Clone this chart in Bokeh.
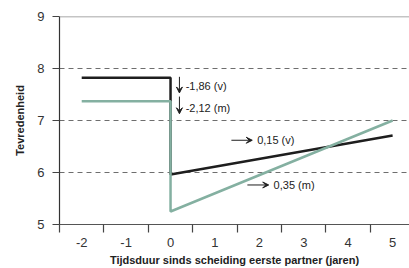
from bokeh.plotting import figure
from bokeh.models import FixedTicker, Span, Arrow, VeeHead, Label, Range1d, LinearAxis
from bokeh.embed import file_html
from bokeh.resources import INLINE

# ---- data ----
x_before = [-2, 0]
x_after = [0, 5]
v_before = 7.82
m_before = 7.37
drop_v = -1.86
drop_m = -2.12
slope_v = 0.15
slope_m = 0.35

x_ticks = [-2, -1, 0, 1, 2, 3, 4, 5]
x_tick_labels = ["-2", "-1", "0", "1", "2", "3", "4", "5"]
x_minor = [-2.5, -1.5, -0.5, 0.5, 1.5, 2.5, 3.5, 4.5]
y_ticks = [5, 6, 7, 8, 9]
grid_y = [6, 7, 8]

labels_drop = ["-1,86 (v)", "-2,12 (m)"]
labels_slope = ["0,15 (v)", "0,35 (m)"]

# annotation positions (data coords)
drop_arrow_x = 0.2
drop_arrows = [(7.84, 7.53), (7.46, 7.13)]
drop_text_pos = [(0.34, 7.67), (0.34, 7.25)]
slope_arrows = [(1.37, 1.84, 6.62), (1.73, 2.21, 5.76)]
slope_text_pos = [(1.95, 6.62), (2.32, 5.76)]

BLACK = "#1e1e1e"
GREEN = "#84b0a1"
FONT = "Liberation Sans"

p = figure(width=409, height=268, output_backend="svg", toolbar_location=None,
           x_range=Range1d(-2.5, 5.38), y_range=Range1d(5, 9),
           x_axis_location=None,
           min_border_left=59, min_border_right=0, min_border_top=16, min_border_bottom=42)
p.outline_line_color = None
p.background_fill_color = "white"
p.border_fill_color = "white"

# grids
p.xgrid.visible = False
p.ygrid.ticker = FixedTicker(ticks=grid_y)
p.ygrid.grid_line_color = "#6e6e6e"
p.ygrid.grid_line_dash = "5 4"
p.ygrid.grid_line_width = 1
p.add_layout(Span(location=y_ticks[-1], dimension="width", line_color="#8a8a8a", line_width=1.5))

# x axis: tick marks (half-integers, no labels)
xa_ticks = LinearAxis(ticker=FixedTicker(ticks=x_minor))
xa_ticks.major_label_overrides = {t: " " for t in x_minor}
xa_ticks.major_label_text_font_size = "1px"
xa_ticks.major_label_standoff = 0
xa_ticks.major_tick_out = 8
xa_ticks.major_tick_in = 0
xa_ticks.major_tick_line_color = "#444444"
xa_ticks.major_tick_line_width = 1.2
xa_ticks.minor_tick_line_color = None
xa_ticks.axis_line_color = "#555555"
xa_ticks.axis_line_width = 1.2
p.add_layout(xa_ticks, "below")

# x axis: labels (integers, no tick marks)
xa = LinearAxis(ticker=FixedTicker(ticks=x_ticks))
xa.major_label_overrides = {t: s for t, s in zip(x_ticks, x_tick_labels)}
xa.major_tick_line_color = None
xa.major_tick_out = 0
xa.minor_tick_line_color = None
xa.axis_line_color = None
xa.major_label_text_font = FONT
xa.major_label_text_font_size = "13px"
xa.major_label_text_color = "#333333"
xa.major_label_standoff = 1
xa.axis_label = "Tijdsduur sinds scheiding eerste partner (jaren)"
xa.axis_label_text_font = FONT
xa.axis_label_text_font_style = "bold"
xa.axis_label_text_font_size = "11px"
xa.axis_label_text_color = "#222222"
xa.axis_label_standoff = 4
p.add_layout(xa, "below")

# y axis
ya = p.yaxis[0]
ya.ticker = FixedTicker(ticks=y_ticks)
ya.minor_tick_line_color = None
ya.major_tick_out = 7
ya.major_tick_in = 0
ya.major_tick_line_color = "#444444"
ya.major_tick_line_width = 1.2
ya.axis_line_color = "#333333"
ya.axis_line_width = 1.2
ya.major_label_text_font = FONT
ya.major_label_text_font_size = "13px"
ya.major_label_text_color = "#333333"
ya.major_label_standoff = 8
ya.axis_label = "Tevredenheid"
ya.axis_label_text_font = FONT
ya.axis_label_text_font_style = "bold"
ya.axis_label_text_font_size = "11px"
ya.axis_label_text_color = "#222222"
ya.axis_label_standoff = 8

# series
v_after = [v_before + drop_v, v_before + drop_v + slope_v * (x_after[1] - x_after[0])]
m_after = [m_before + drop_m, m_before + drop_m + slope_m * (x_after[1] - x_after[0])]

p.line(x_before + x_after, [v_before, v_before] + v_after, line_color=BLACK, line_width=2.5)
p.line(x_before + x_after, [m_before, m_before] + m_after, line_color=GREEN, line_width=2.5)

# annotations
for (y0, y1), (tx, ty), txt in zip(drop_arrows, drop_text_pos, labels_drop):
    p.add_layout(Arrow(x_start=drop_arrow_x, y_start=y0, x_end=drop_arrow_x, y_end=y1,
                       line_color=BLACK, line_width=1,
                       end=VeeHead(size=6, fill_color=BLACK, line_color=BLACK)))
    p.add_layout(Label(x=tx, y=ty, text=txt, text_font=FONT, text_font_size="11px",
                       text_color="#222222", text_baseline="middle", text_align="left"))

for (x0, x1, y), (tx, ty), txt in zip(slope_arrows, slope_text_pos, labels_slope):
    p.add_layout(Arrow(x_start=x0, y_start=y, x_end=x1, y_end=y,
                       line_color=BLACK, line_width=1,
                       end=VeeHead(size=6, fill_color=BLACK, line_color=BLACK)))
    p.add_layout(Label(x=tx, y=ty, text=txt, text_font=FONT, text_font_size="11px",
                       text_color="#222222", text_baseline="middle", text_align="left"))

open("out.html", "w").write(file_html(p, INLINE))
